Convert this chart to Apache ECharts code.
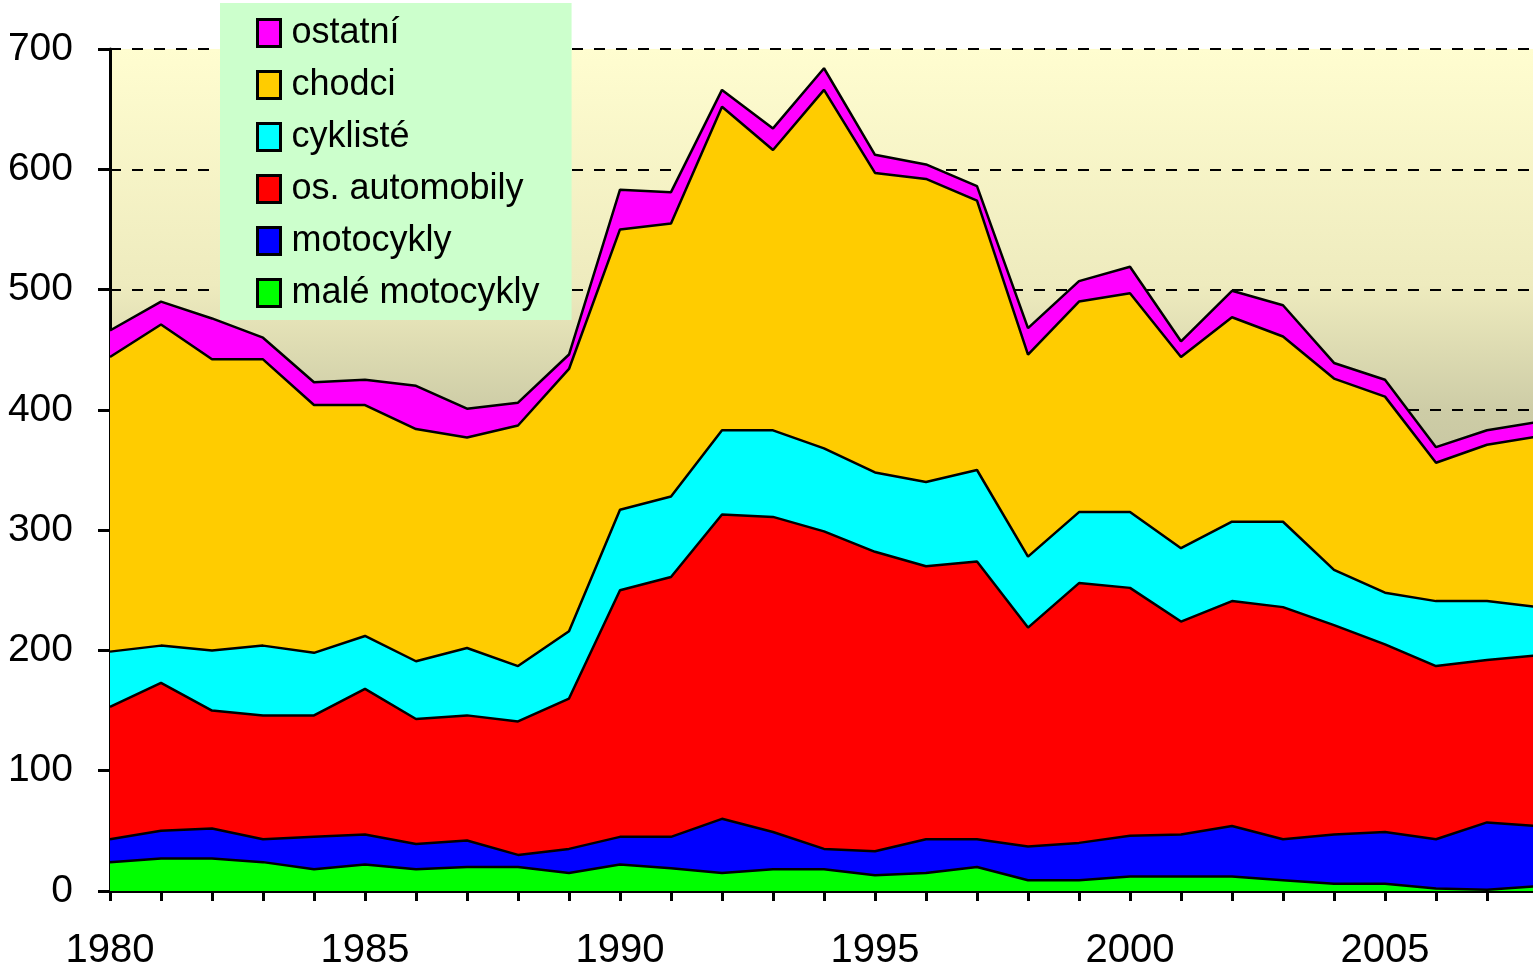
<!DOCTYPE html>
<html>
<head>
    <meta charset="utf-8">
    <title>Usmrcené osoby</title>
    <script src="https://cdn.jsdelivr.net/npm/echarts@6/dist/echarts.min.js"></script>
    <style>
        html, body { margin: 0; padding: 0; background: #fff; }
    </style>
</head>
<body>
    <div id="main" style="width: 1533px;height:967px;"></div>
    <script type="text/javascript">
var years = ['1980', '1981', '1982', '1983', '1984', '1985', '1986', '1987', '1988', '1989',
             '1990', '1991', '1992', '1993', '1994', '1995', '1996', '1997', '1998', '1999',
             '2000', '2001', '2002', '2003', '2004', '2005', '2006', '2007', '2008'];

// hodnoty (jednotlivé vrstvy, ne kumulativní)
var maleMotocykly = [24, 27, 27, 24, 18, 22, 18, 20, 20, 15, 22, 19, 15, 18, 18, 13, 15, 20, 9, 9, 12, 12, 12, 9, 6, 6, 2, 1, 4];
var motocykly     = [19, 23, 25, 19, 27, 25, 21, 22, 10, 20, 23, 26, 45, 31, 17, 20, 28, 23, 28, 31, 34, 35, 42, 34, 41, 43, 41, 56, 50];
var osAutomobily  = [110, 123, 98, 103, 101, 121, 104, 104, 111, 125, 205, 216, 253, 262, 264, 249, 227, 231, 182, 216, 206, 177, 187, 193, 174, 156, 144, 135, 142];
var cyklisti      = [46, 31, 50, 58, 52, 44, 48, 56, 46, 56, 67, 67, 70, 72, 69, 66, 70, 76, 59, 59, 63, 61, 66, 71, 46, 43, 54, 49, 40];
var chodci        = [245, 267, 242, 238, 206, 192, 193, 175, 200, 218, 233, 227, 269, 233, 298, 249, 252, 224, 168, 175, 182, 159, 170, 154, 159, 163, 115, 130, 142];
var ostatni       = [22, 19, 34, 18, 19, 21, 36, 24, 19, 12, 33, 26, 14, 18, 18, 15, 12, 12, 22, 17, 22, 13, 22, 26, 13, 14, 13, 12, 12];

var myChart = echarts.init(document.getElementById('main'));

function vrstva(name, data, color) {
    return {
        name: name,
        type: 'line',
        stack: 'celkem',
        data: data,
        symbol: 'none',
        color: color,
        lineStyle: { color: '#000', width: 2.5 },
        itemStyle: { color: color },
        areaStyle: { color: color, opacity: 1 }
    };
}

var option = {
    animation: false,
    backgroundColor: '#fff',
    textStyle: { fontFamily: 'Liberation Sans, Arial, sans-serif' },
    grid: {
        left: 110,
        right: -5,
        top: 49,
        bottom: 76,
        outerBoundsMode: 'none',
        containLabel: false,
        show: true,
        borderWidth: 0,
        backgroundColor: {
            type: 'linear', x: 0, y: 0, x2: 0, y2: 1,
            colorStops: [
                { offset: 0, color: '#fffdd0' },
                { offset: 0.28, color: '#eeebbe' },
                { offset: 0.43, color: '#cdcca6' },
                { offset: 1, color: '#9e9e82' }
            ]
        }
    },
    legend: {
        orient: 'vertical',
        left: 220,
        top: 3,
        padding: [12, 32, 9, 36],
        backgroundColor: '#ccffcc',
        itemWidth: 23,
        itemHeight: 27,
        itemGap: 16,
        icon: 'rect',
        itemStyle: { borderColor: '#000', borderWidth: 3 },
        textStyle: {
            fontSize: 36, color: '#000',
            padding: [0, 0, 0, 6],
            fontFamily: 'Liberation Sans, Arial, sans-serif'
        },
        data: ['ostatní', 'chodci', 'cyklisté', 'os. automobily', 'motocykly', 'malé motocykly']
    },
    xAxis: {
        type: 'category',
        boundaryGap: false,
        data: years,
        axisLine: { lineStyle: { color: '#000', width: 3 } },
        axisTick: { interval: 0, length: 10, lineStyle: { color: '#000', width: 3 } },
        axisLabel: { interval: 4, fontSize: 40, color: '#000', margin: 40 },
        splitLine: { show: false }
    },
    yAxis: {
        type: 'value',
        min: 0,
        max: 700,
        interval: 100,
        axisLine: { show: true, lineStyle: { color: '#000', width: 3 } },
        axisTick: { show: true, length: 12, lineStyle: { color: '#000', width: 3 } },
        axisLabel: { fontSize: 39, color: '#000', margin: 37 },
        splitLine: { show: true, lineStyle: { color: '#000', width: 2, type: [11, 11] } }
    },
    series: [
        vrstva('malé motocykly', maleMotocykly, '#00ff00'),
        vrstva('motocykly', motocykly, '#0000ff'),
        vrstva('os. automobily', osAutomobily, '#ff0000'),
        vrstva('cyklisté', cyklisti, '#00ffff'),
        vrstva('chodci', chodci, '#ffcc00'),
        vrstva('ostatní', ostatni, '#ff00ff')
    ]
};

myChart.setOption(option);
    </script>
</body>
</html>
